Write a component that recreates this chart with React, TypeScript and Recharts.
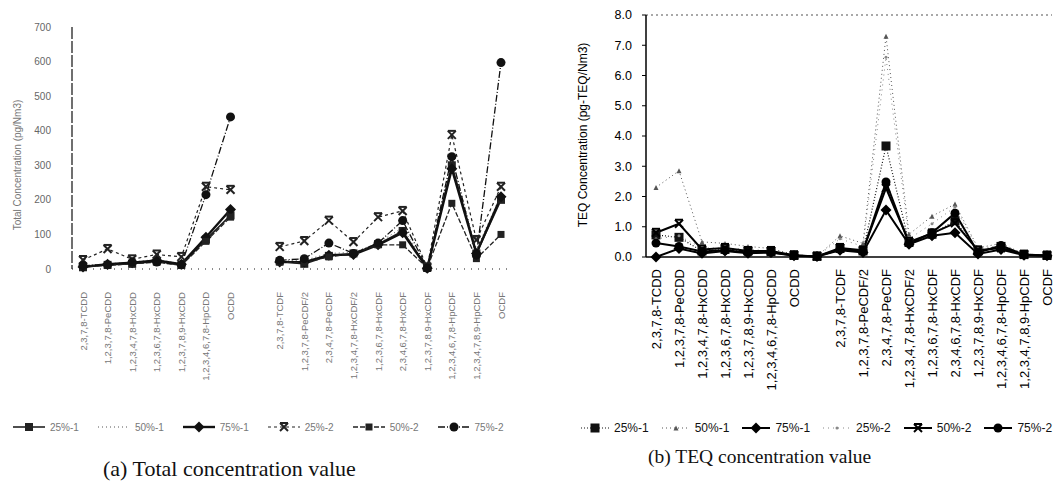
import React from 'react';
import { LineChart, Line, XAxis, YAxis, ReferenceLine } from 'recharts';

// ---------- data ----------
const categories = [
  '2,3,7,8-TCDD', '1,2,3,7,8-PeCDD', '1,2,3,4,7,8-HxCDD', '1,2,3,6,7,8-HxCDD',
  '1,2,3,7,8,9-HxCDD', '1,2,3,4,6,7,8-HpCDD', 'OCDD', ' ',
  '2,3,7,8-TCDF', '1,2,3,7,8-PeCDF/2', '2,3,4,7,8-PeCDF', '1,2,3,4,7,8-HxCDF/2',
  '1,2,3,6,7,8-HxCDF', '2,3,4,6,7,8-HxCDF', '1,2,3,7,8,9-HxCDF', '1,2,3,4,6,7,8-HpCDF',
  '1,2,3,4,7,8,9-HpCDF', 'OCDF',
];

const seriesNames = ['25%-1', '50%-1', '75%-1', '25%-2', '50%-2', '75%-2'];

const leftTicks = [0, 100, 200, 300, 400, 500, 600, 700];
const rightTicks = [0, 1, 2, 3, 4, 5, 6, 7, 8];

// (a) Total concentration (pg/Nm3)
const total25_1 = [5, 12, 15, 22, 12, 85, 155, null, 22, 15, 38, 45, 72, 110, 3, 300, 45, 200];
const total50_1 = [8, 15, 20, 28, 15, 95, 170, null, 25, 25, 45, 48, 75, 120, 4, 320, 55, 215];
const total75_1 = [6, 14, 18, 25, 14, 92, 172, null, 20, 20, 40, 42, 70, 105, 2, 290, 45, 209];
const total25_2 = [26, 58, 28, 42, 35, 238, 229, null, 64, 81, 140, 78, 150, 168, 5, 388, 84, 238];
const total50_2 = [8, 10, 15, 20, 10, 80, 150, null, 20, 18, 35, 45, 70, 70, 3, 190, 30, 100];
const total75_2 = [10, 12, 20, 20, 12, 215, 440, null, 25, 30, 75, 45, 75, 140, 3, 325, 40, 597];

// (b) TEQ concentration (pg-TEQ/Nm3)
const teq25_1 = [0.73, 0.65, 0.2, 0.25, 0.2, 0.18, 0.05, 0.02, 0.28, 0.2, 3.67, 0.48, 0.75, 1.2, 0.2, 0.35, 0.08, 0.05];
const teq50_1 = [2.3, 2.85, 0.5, 0.45, 0.35, 0.28, 0.08, 0.02, 0.7, 0.45, 7.3, 0.75, 1.35, 1.75, 0.3, 0.45, 0.1, 0.06];
const teq75_1 = [0.0, 0.28, 0.12, 0.2, 0.12, 0.15, 0.04, 0.02, 0.22, 0.15, 1.55, 0.42, 0.7, 0.8, 0.1, 0.25, 0.06, 0.04];
const teq25_2 = [0.6, 0.7, 0.3, 0.3, 0.25, 0.2, 0.06, 0.02, 0.6, 0.35, 6.6, 0.6, 1.1, 1.65, 0.25, 0.4, 0.1, 0.06];
const teq50_2 = [0.8, 1.1, 0.25, 0.3, 0.2, 0.2, 0.06, 0.02, 0.3, 0.22, 2.28, 0.5, 0.78, 1.12, 0.22, 0.3, 0.08, 0.05];
const teq75_2 = [0.46, 0.35, 0.18, 0.22, 0.15, 0.16, 0.05, 0.02, 0.25, 0.2, 2.48, 0.45, 0.8, 1.45, 0.15, 0.38, 0.07, 0.05];

// ---------- styles ----------
type Kind = 'square' | 'diamond' | 'x' | 'circle' | 'triangle' | 'dot' | 'none';
interface SeriesStyle { key: string; name: string; values: (number | null)[]; stroke: string; width: number; dash?: string; marker: Kind; size: number; }

const leftSeries: SeriesStyle[] = [
  { key: 'a1', name: seriesNames[0], values: total25_1, stroke: '#222', width: 1.6, marker: 'square', size: 8 },
  { key: 'a2', name: seriesNames[1], values: total50_1, stroke: '#555', width: 1, dash: '1 3', marker: 'none', size: 0 },
  { key: 'a3', name: seriesNames[2], values: total75_1, stroke: '#111', width: 2.4, marker: 'diamond', size: 9 },
  { key: 'a4', name: seriesNames[3], values: total25_2, stroke: '#222', width: 1.2, dash: '3 3', marker: 'x', size: 8 },
  { key: 'a5', name: seriesNames[4], values: total50_2, stroke: '#222', width: 1.3, dash: '5 2', marker: 'square', size: 7 },
  { key: 'a6', name: seriesNames[5], values: total75_2, stroke: '#111', width: 1.3, dash: '7 2 1 2', marker: 'circle', size: 9 },
];

const rightSeries: SeriesStyle[] = [
  { key: 'b1', name: seriesNames[0], values: teq25_1, stroke: '#111', width: 1.2, dash: '1 2', marker: 'square', size: 9 },
  { key: 'b2', name: seriesNames[1], values: teq50_1, stroke: '#555', width: 1, dash: '1 3', marker: 'triangle', size: 5 },
  { key: 'b3', name: seriesNames[2], values: teq75_1, stroke: '#000', width: 2, marker: 'diamond', size: 9 },
  { key: 'b4', name: seriesNames[3], values: teq25_2, stroke: '#888', width: 1, dash: '1 4', marker: 'dot', size: 3 },
  { key: 'b5', name: seriesNames[4], values: teq50_2, stroke: '#000', width: 2, marker: 'x', size: 8 },
  { key: 'b6', name: seriesNames[5], values: teq75_2, stroke: '#000', width: 2, marker: 'circle', size: 9 },
];

const leftData = categories.map((name, i) => {
  const row: any = { name };
  leftSeries.forEach((s) => { row[s.key] = s.values[i]; });
  return row;
});
const rightData = categories.map((name, i) => {
  const row: any = { name };
  rightSeries.forEach((s) => { row[s.key] = s.values[i]; });
  return row;
});

// ---------- marker ----------
function Marker({ kind, cx, cy, size, color }: { kind: Kind; cx: number; cy: number; size: number; color: string }) {
  const h = size / 2;
  switch (kind) {
    case 'square':
      return <rect x={cx - h} y={cy - h} width={size} height={size} fill={color} />;
    case 'diamond':
      return <polygon points={`${cx},${cy - h - 1} ${cx + h + 1},${cy} ${cx},${cy + h + 1} ${cx - h - 1},${cy}`} fill={color} />;
    case 'circle':
      return <circle cx={cx} cy={cy} r={h} fill={color} />;
    case 'triangle':
      return <polygon points={`${cx},${cy - h} ${cx + h},${cy + h} ${cx - h},${cy + h}`} fill={color} />;
    case 'dot':
      return <circle cx={cx} cy={cy} r={h} fill={color} />;
    case 'x':
      return (
        <g stroke={color} strokeWidth={2}>
          <line x1={cx - h} y1={cy - h} x2={cx + h} y2={cy + h} />
          <line x1={cx - h} y1={cy + h} x2={cx + h} y2={cy - h} />
          <line x1={cx - h} y1={cy - h} x2={cx + h} y2={cy - h} />
        </g>
      );
    default:
      return null;
  }
}

const makeDot = (s: SeriesStyle, color: string) => (p: any) => {
  const k = `${s.key}-${p.index}`;
  if (s.marker === 'none' || p.cx == null || p.cy == null || p.value == null || Number.isNaN(p.cy)) return <g key={k} />;
  return (
    <g key={k}>
      <Marker kind={s.marker} cx={p.cx} cy={p.cy} size={s.size} color={color} />
    </g>
  );
};

const RotTick = ({ x, y, payload, fontSize, fill }: any) => (
  <text
    x={x}
    y={y}
    transform={`rotate(-90, ${x}, ${y})`}
    textAnchor="end"
    dominantBaseline="central"
    fontSize={fontSize}
    fill={fill}
    fontFamily="'Liberation Sans', Arial, sans-serif"
  >
    {payload.value}
  </text>
);

function LegendRow({ series, fontSize, color, gap, lineW }: { series: SeriesStyle[]; fontSize: number; color: string; gap: number; lineW: number }) {
  return (
    <div style={{ display: 'flex', alignItems: 'center', gap, fontFamily: "'Liberation Sans', Arial, sans-serif", fontSize, color, whiteSpace: 'nowrap' }}>
      {series.map((s) => (
        <div key={s.key} style={{ display: 'flex', alignItems: 'center', gap: 4 }}>
          <svg width={lineW} height={12}>
            <line x1={1} y1={6} x2={lineW - 1} y2={6} stroke={s.stroke} strokeWidth={s.width} strokeDasharray={s.dash} />
            <Marker kind={s.marker} cx={lineW / 2} cy={6} size={Math.min(s.size, 9)} color={s.stroke} />
          </svg>
          <span>{s.name}</span>
        </div>
      ))}
    </div>
  );
}

export default function App() {
  const sans = "'Liberation Sans', Arial, sans-serif";
  const serif = "'Liberation Serif', 'Times New Roman', serif";
  return (
    <div style={{ position: 'absolute', left: 0, top: 0, width: 1056, height: 491, background: '#fff', overflow: 'hidden' }}>
      {/* (a) Total concentration */}
      <div style={{ position: 'absolute', left: 0, top: 0 }}>
        <LineChart width={520} height={440} data={leftData} margin={{ top: 27, right: 10, bottom: 0, left: 0 }}>
          <XAxis
            dataKey="name"
            interval={0}
            height={171}
            padding={{ left: 11, right: 9 }}
            axisLine={{ stroke: '#666', strokeWidth: 1.5, strokeDasharray: '1 6' }}
            tickLine={false}
            tickMargin={17}
            tick={<RotTick fontSize={9.5} fill="#777" />}
          />
          <YAxis
            type="number"
            domain={[0, 700]}
            ticks={leftTicks}
            interval={0}
            width={72}
            axisLine={{ stroke: '#333', strokeWidth: 1.4, strokeDasharray: '12 2' }}
            tickLine={false}
            tickMargin={15}
            tick={{ fontSize: 10, fill: '#666', fontFamily: sans }}
            label={{
              content: () => (
                <text x={17} y={165} transform="rotate(-90, 17, 165)" textAnchor="middle" dominantBaseline="central" fontSize={10} fill="#777" fontFamily={sans}>
                  Total Concentration (pg/Nm3)
                </text>
              ),
            }}
          />
          {leftSeries.map((s) => (
            <Line
              key={s.key}
              dataKey={s.key}
              name={s.name}
              stroke={s.stroke}
              strokeWidth={s.width}
              strokeDasharray={s.dash}
              dot={makeDot(s, s.stroke)}
              activeDot={false}
              connectNulls={false}
              isAnimationActive={false}
              type="linear"
            />
          ))}
        </LineChart>
      </div>

      {/* (b) TEQ concentration */}
      <div style={{ position: 'absolute', left: 520, top: 0 }}>
        <LineChart width={536} height={420} data={rightData} margin={{ top: 15, right: 4, bottom: 0, left: 0 }}>
          <XAxis
            dataKey="name"
            interval={0}
            height={163}
            padding={{ left: 10, right: 5 }}
            axisLine={{ stroke: '#000', strokeWidth: 1.5 }}
            tickLine={false}
            tickMargin={6}
            tick={<RotTick fontSize={13} fill="#000" />}
          />
          <YAxis
            type="number"
            domain={[0, 8]}
            ticks={rightTicks}
            interval={0}
            width={126}
            axisLine={{ stroke: '#000', strokeWidth: 1.5 }}
            tickLine={{ stroke: '#000' }}
            tickSize={4}
            tickMargin={10}
            tickFormatter={(v: number) => v.toFixed(1)}
            tick={{ fontSize: 12.5, fill: '#000', fontFamily: sans }}
            label={{
              content: () => (
                <text x={63} y={135} transform="rotate(-90, 63, 135)" textAnchor="middle" dominantBaseline="central" fontSize={12} fill="#000" fontFamily={sans}>
                  TEQ Concentration (pg-TEQ/Nm3)
                </text>
              ),
            }}
          />
          <ReferenceLine y={8} stroke="#555" strokeDasharray="2 3" strokeWidth={1.2} />
          {rightSeries.map((s) => (
            <Line
              key={s.key}
              dataKey={s.key}
              name={s.name}
              stroke={s.stroke}
              strokeWidth={s.width}
              strokeDasharray={s.dash}
              dot={makeDot(s, s.stroke)}
              activeDot={false}
              isAnimationActive={false}
              type="linear"
            />
          ))}
        </LineChart>
      </div>

      {/* legends */}
      <div style={{ position: 'absolute', left: 12, top: 421 }}>
        <LegendRow series={leftSeries} fontSize={10} color="#777" gap={18} lineW={34} />
      </div>
      <div style={{ position: 'absolute', left: 580, top: 421 }}>
        <LegendRow series={rightSeries} fontSize={12} color="#111" gap={12} lineW={30} />
      </div>

      {/* captions */}
      <div style={{ position: 'absolute', left: 103, top: 456, fontFamily: serif, fontSize: 22, color: '#111', whiteSpace: 'nowrap' }}>
        (a) Total concentration value
      </div>
      <div style={{ position: 'absolute', left: 648, top: 446, fontFamily: serif, fontSize: 19.5, color: '#111', whiteSpace: 'nowrap' }}>
        (b) TEQ concentration value
      </div>
    </div>
  );
}
